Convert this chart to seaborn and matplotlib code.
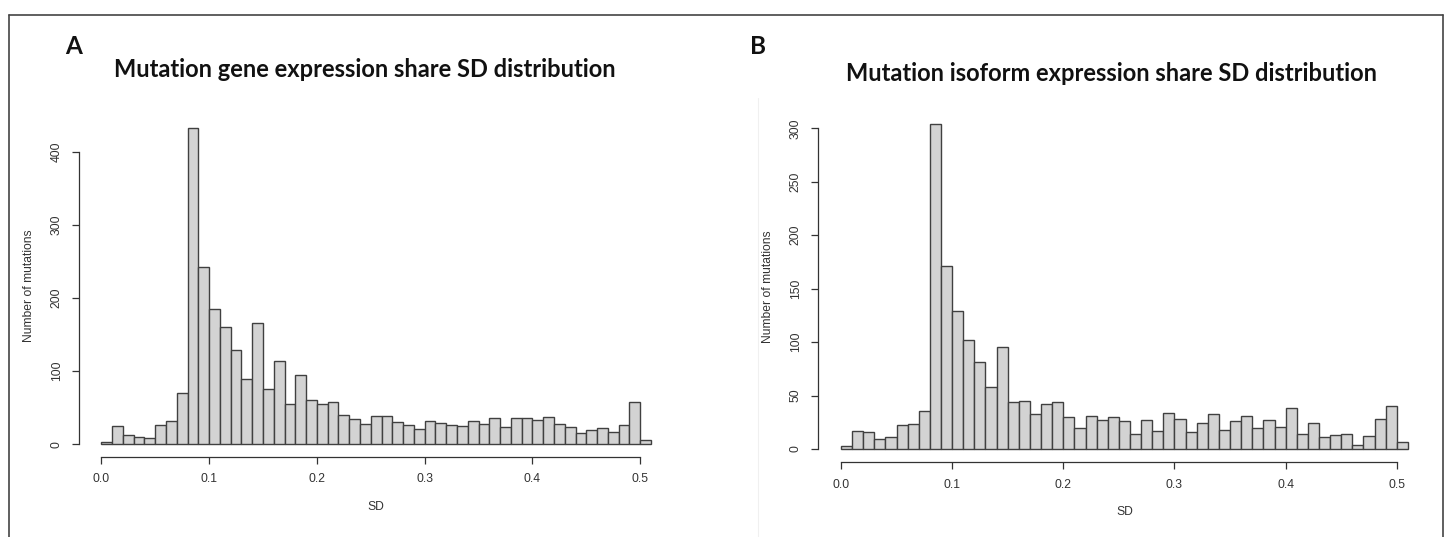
import numpy as np
import pandas as pd
import seaborn as sns
import matplotlib.pyplot as plt
from matplotlib.lines import Line2D

# Histogram bins: SD from 0 to 0.51 in steps of 0.01
bin_edges = [round(0.01 * i, 2) for i in range(52)]

# Counts per bin (number of mutations) for gene-level expression share SD
gene_counts = [3, 25, 12, 10, 8, 26, 31, 70, 432, 242,
               185, 160, 129, 89, 165, 76, 114, 55, 95, 60,
               55, 58, 40, 34, 28, 38, 39, 30, 26, 21,
               31, 29, 26, 25, 31, 28, 35, 24, 35, 36,
               33, 37, 27, 23, 15, 19, 22, 17, 26, 58,
               5]

# Counts per bin for isoform-level expression share SD
isoform_counts = [3, 17, 16, 9, 11, 22, 23, 36, 304, 171,
                  129, 102, 81, 58, 95, 44, 45, 33, 42, 44,
                  30, 20, 31, 27, 30, 26, 14, 27, 17, 34,
                  28, 16, 24, 33, 18, 26, 31, 20, 27, 21,
                  38, 14, 24, 11, 13, 14, 4, 12, 28, 40,
                  7]

gene_yticks = [0, 100, 200, 300, 400]
isoform_yticks = [0, 50, 100, 150, 200, 250, 300]
x_ticks = [0.0, 0.1, 0.2, 0.3, 0.4, 0.5]

panel_titles = ["Mutation gene expression share SD distribution",
                "Mutation isoform expression share SD distribution"]
panel_letters = ["A", "B"]

sns.set_theme(style="ticks")
plt.rcParams['font.family'] = ['Liberation Sans', 'DejaVu Sans']

fig = plt.figure(figsize=(14.48, 5.37), dpi=100)
W, H = 1448.0, 537.0


def fx(px):
    return px / W


def fy(py):
    return 1.0 - py / H


ax_a = fig.add_axes([fx(79.3), fy(456.7), fx(673) - fx(79.3), fy(115.6) - fy(456.7)])
ax_b = fig.add_axes([fx(818.3), fy(462.0), fx(1430.6) - fx(818.3), fy(111.0) - fy(462.0)])

AXIS_TEXT = 8.7


def draw_hist(ax, counts, yticks):
    edges = np.array(bin_edges)
    frame = pd.DataFrame({
        "SD": (edges[:-1] + edges[1:]) / 2.0,
        "count": counts,
    })
    sns.histplot(data=frame, x="SD", weights="count", bins=list(bin_edges), ax=ax,
                 color="#d3d3d3", edgecolor="#404040", linewidth=1.0, alpha=1.0)
    ymax = max(counts)
    span = edges[-1] - edges[0]
    ax.set_xlim(edges[0] - 0.04 * span, edges[-1] + 0.04 * span)
    ax.set_ylim(-0.04 * ymax, 1.04 * ymax)

    for side in ("top", "right"):
        ax.spines[side].set_visible(False)
    for side in ("left", "bottom"):
        ax.spines[side].set_color("#333333")
        ax.spines[side].set_linewidth(0.9)
    ax.spines["left"].set_bounds(yticks[0], yticks[-1])
    ax.spines["bottom"].set_bounds(x_ticks[0], x_ticks[-1])

    ax.set_xticks(x_ticks)
    ax.set_xticklabels([f"{t:.1f}" for t in x_ticks])
    ax.set_yticks(yticks)
    ax.set_yticklabels([str(t) for t in yticks], rotation=90, va="center")
    ax.tick_params(axis="both", direction="out", length=5, width=0.9,
                   color="#333333", labelsize=AXIS_TEXT, labelcolor="#333333", pad=7)

    ax.set_xlabel("SD", fontsize=AXIS_TEXT, color="#333333", labelpad=11)
    ax.set_ylabel("Number of mutations", fontsize=AXIS_TEXT, color="#333333", labelpad=11)
    ax.grid(False)


draw_hist(ax_a, gene_counts, gene_yticks)
draw_hist(ax_b, isoform_counts, isoform_yticks)

# Panel titles and letters
title_font = dict(family=["Lato", "DejaVu Sans"], fontweight="bold", color="#111111")
fig.text(fx(364.5), fy(77.3), panel_titles[0], ha="center", va="baseline",
         fontsize=17, **title_font)
fig.text(fx(1111.5), fy(81.0), panel_titles[1], ha="center", va="baseline",
         fontsize=17, **title_font)
fig.text(fx(74), fy(54), panel_letters[0], ha="center", va="baseline",
         fontsize=17.5, **title_font)
fig.text(fx(758), fy(54), panel_letters[1], ha="center", va="baseline",
         fontsize=17.5, **title_font)

# Outer frame (top, left, right) and faint divider
frame_kw = dict(transform=fig.transFigure, color="#444444", linewidth=1.2)
fig.add_artist(Line2D([fx(8.5), fx(1442.5)], [fy(14.5), fy(14.5)], **frame_kw))
fig.add_artist(Line2D([fx(8.5), fx(8.5)], [fy(14.5), 0.0], **frame_kw))
fig.add_artist(Line2D([fx(1442.5), fx(1442.5)], [fy(14.5), 0.0], **frame_kw))
fig.add_artist(Line2D([fx(758.3), fx(758.3)], [fy(98), 0.0],
                      transform=fig.transFigure, color="#f0f0f0", linewidth=0.8))

fig.savefig("out.png", dpi=100, facecolor="white")
